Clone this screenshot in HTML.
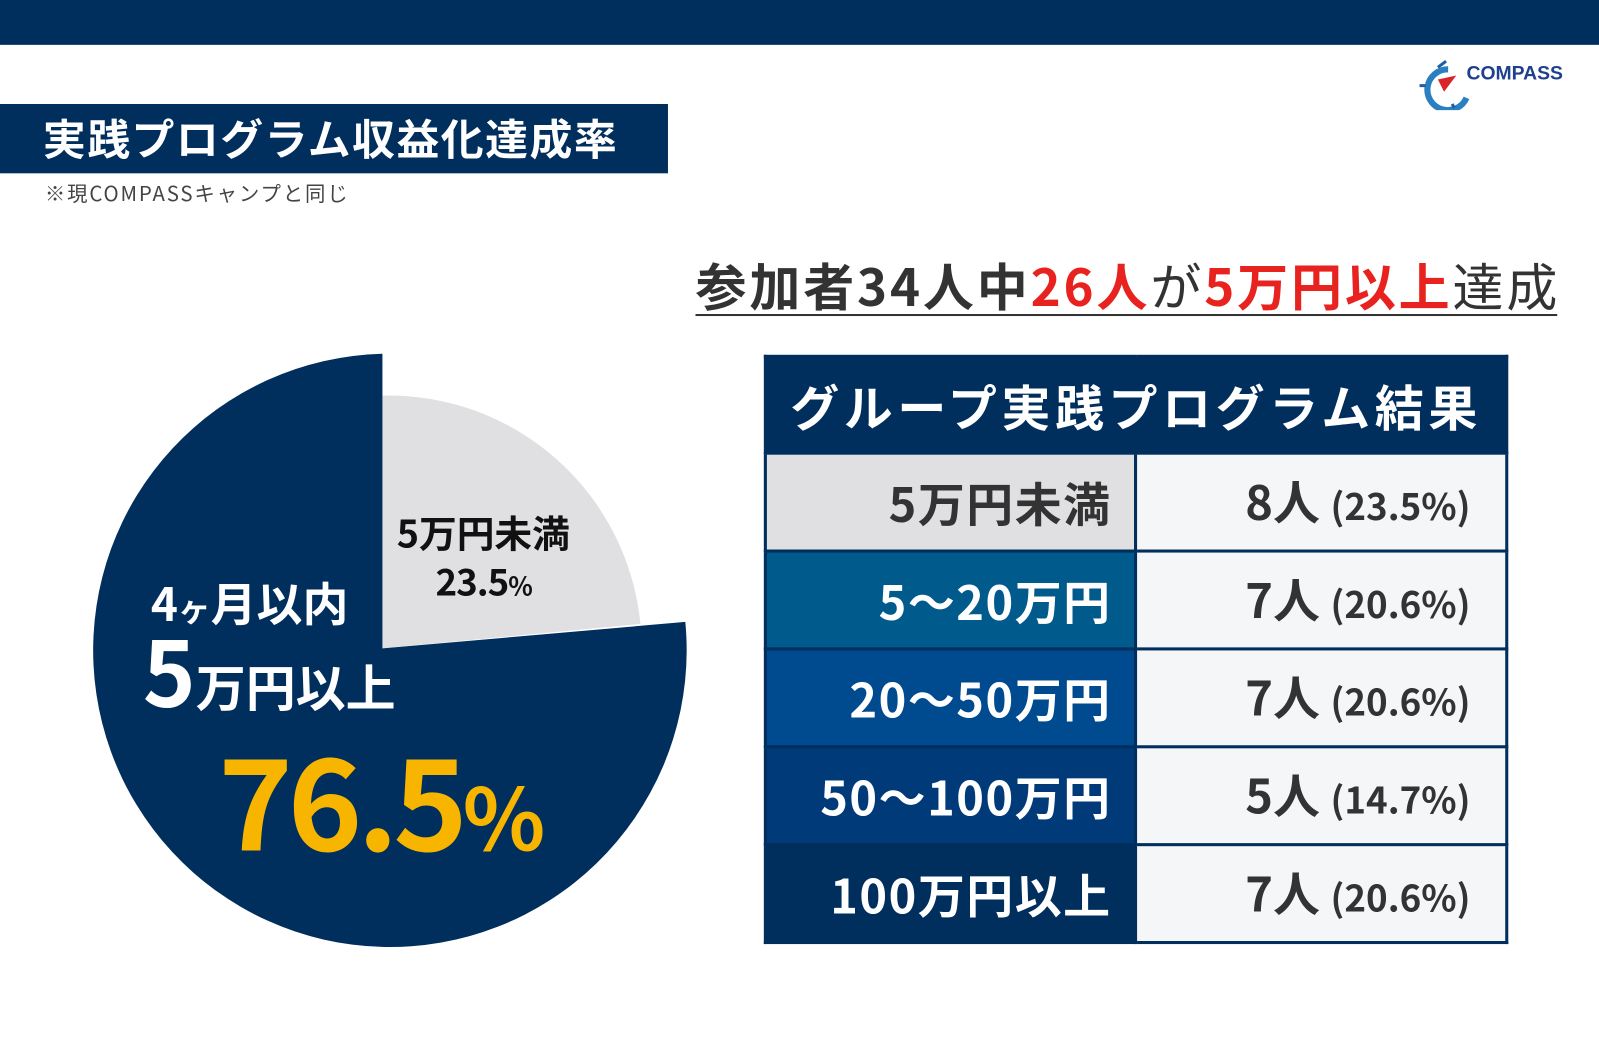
<!DOCTYPE html>
<html><head><meta charset="utf-8"><style>
html,body{margin:0;padding:0;width:1599px;height:1047px;overflow:hidden;background:#fff}
#w{position:absolute;left:0;top:0;width:1568px;height:1027px;transform:scale(1.0198,1.0195);transform-origin:0 0;font-family:"Noto Sans CJK JP","Liberation Sans",sans-serif}
.a{position:absolute;white-space:nowrap}
table{position:absolute;left:749px;top:348px;width:730px;border-collapse:collapse;}
td{border:3px solid #002e5d;font-weight:bold;font-size:46px;text-align:right;padding:0 22px;height:93px;line-height:50px;letter-spacing:1.5px}
td.r{background:#f5f6f8;color:#333;padding-right:34px;letter-spacing:0}
</style></head><body><div id="w">
<div class="a" style="left:0;top:0;width:1568px;height:44px;background:#002e5d"></div>
<div class="a" style="left:0;top:102px;width:655px;height:68px;background:#002e5d"></div>
<div class="a" style="left:42px;top:107px;font-size:42px;font-weight:bold;color:#fff;line-height:56px;letter-spacing:1.5px">実践プログラム収益化達成率</div>
<div class="a" style="left:44px;top:176px;font-size:20px;color:#444;line-height:26px;letter-spacing:1.8px">※現COMPASSキャンプと同じ</div>
<svg class="a" style="left:1390px;top:56px" width="170" height="52">
<path d="M30 12 A20 20 0 1 0 48 40" stroke="#2a7fc1" stroke-width="6" fill="none"/>
<path d="M8 28 L2 28 M34 46 L36 50 M20 10 L28 4" stroke="#1f5fa8" stroke-width="3"/>
<polygon points="20,22 38,18 26,34" fill="#d9252a"/>
<text x="48" y="22" font-family="Liberation Sans" font-weight="bold" font-size="19" fill="#1f3f8f">COMPASS</text>
</svg>
<div class="a" style="left:682px;top:250px;font-size:50px;font-weight:bold;color:#333;line-height:58px;letter-spacing:2.8px;border-bottom:2px solid #333;width:845px">参加者34人中<span style="color:#e8231f">26人</span><span style="font-weight:normal">が</span><span style="color:#e8231f">5万円以上</span><span style="font-weight:normal">達成</span></div>
<svg class="a" style="left:0;top:0" width="700" height="1000">
<path d="M375 636 L375 388 A248 248 0 0 1 628 612 Z" fill="#e0e0e3"/>
<path d="M375 636 L672 610 A291 291 0 1 1 375 347 Z" fill="#002e5d"/>
</svg>
<div class="a" style="left:389px;top:498px;font-size:37px;font-weight:bold;color:#111;line-height:46px">5万円未満</div>
<div class="a" style="left:427px;top:546px;font-size:36px;font-weight:bold;color:#111;line-height:46px;letter-spacing:-1px">23.5<span style="font-size:25px">%</span></div>
<div class="a" style="left:148px;top:562px;font-size:45px;font-weight:bold;color:#fff;line-height:56px">4<span style="font-size:32px">ヶ</span>月以内</div>
<div class="a" style="left:140px;top:606px;font-size:88px;font-weight:bold;color:#fff;line-height:100px">5<span style="font-size:49px">万円以上</span></div>
<div class="a" style="left:214px;top:707px;font-size:124px;font-weight:bold;color:#f7b500;letter-spacing:-5px;line-height:146px">76.5<span style="font-size:84px;letter-spacing:0">%</span></div>
<table>
<tr><td colspan="2" style="background:#002e5d;color:#fff;text-align:center;height:92px;font-size:48px;padding:0;letter-spacing:4.5px">グループ実践プログラム結果</td></tr>
<tr><td style="background:#e0e0e3;color:#333;width:316px">5万円未満</td><td class="r">8人 <span style="font-size:36px">(23.5%)</span></td></tr>
<tr><td style="background:#005a8c;color:#fff">5～20万円</td><td class="r">7人 <span style="font-size:36px">(20.6%)</span></td></tr>
<tr><td style="background:#004a8f;color:#fff">20～50万円</td><td class="r">7人 <span style="font-size:36px">(20.6%)</span></td></tr>
<tr><td style="background:#003a78;color:#fff">50～100万円</td><td class="r">5人 <span style="font-size:36px">(14.7%)</span></td></tr>
<tr><td style="background:#002e5d;color:#fff">100万円以上</td><td class="r">7人 <span style="font-size:36px">(20.6%)</span></td></tr>
</table>
</div></body></html>
